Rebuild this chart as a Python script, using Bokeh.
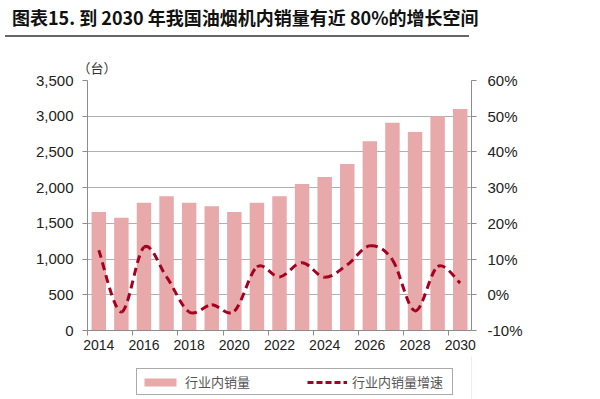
from bokeh.plotting import figure
from bokeh.models import (Range1d, LinearAxis, FixedTicker, NumeralTickFormatter, Title,
                          PrintfTickFormatter, Legend, LegendItem, Div, ColumnDataSource)
from bokeh.layouts import column
from bokeh.embed import file_html
from bokeh.resources import INLINE
import numpy as np

# ---- data ----
years = [2014, 2015, 2016, 2017, 2018, 2019, 2020, 2021, 2022,
         2023, 2024, 2025, 2026, 2027, 2028, 2029, 2030]
sales = [1660, 1580, 1790, 1880, 1790, 1740, 1660, 1790, 1880,
         2050, 2150, 2330, 2650, 2910, 2780, 3000, 3100]
growth = [12.5, -4.8, 13.3, 5.0, -4.8, -2.8, -4.6, 7.8, 5.0,
          9.0, 4.9, 8.4, 13.7, 9.8, -4.5, 7.9, 3.3]
left_ticks = [0, 500, 1000, 1500, 2000, 2500, 3000, 3500]
right_ticks = [-10, 0, 10, 20, 30, 40, 50, 60]
x_labels = [2014, 2016, 2018, 2020, 2022, 2024, 2026, 2028, 2030]

title_text = "图表15. 到 2030 年我国油烟机内销量有近 80%的增长空间"
unit_text = "（台）"
bar_name = "行业内销量"
line_name = "行业内销量增速"

BAR = "#E8A9AA"
LINE = "#A50021"
FONT = "Liberation Sans"
CJK = "Noto Sans CJK SC"

p = figure(frame_width=384, frame_height=250, output_backend="svg", toolbar_location=None,
           x_range=Range1d(years[0] - 0.5, years[-1] + 0.5), y_range=Range1d(0, 3500),
           min_border_left=87, min_border_right=59, min_border_top=38, min_border_bottom=26)
p.outline_line_color = None
p.background_fill_color = "white"
p.border_fill_color = "white"

p.extra_y_ranges = {"pct": Range1d(-10, 60)}

bars = p.vbar(x=years, top=sales, width=0.64, color=BAR, line_color=None)

# smooth curve through the growth points (Catmull-Rom as cubic bezier)
xs = np.array(years, dtype=float)
ys = np.array(growth, dtype=float)
n = len(xs)
xe = np.concatenate([[xs[0]], xs, [xs[-1]]])
ye = np.concatenate([[ys[0]], ys, [ys[-1]]])
x0, y0 = xs[:-1], ys[:-1]
x1, y1 = xs[1:], ys[1:]
cx0 = x0 + (xe[2:n + 1] - xe[0:n - 1]) / 6.0
cy0 = y0 + (ye[2:n + 1] - ye[0:n - 1]) / 6.0
cx1 = x1 - (xe[3:n + 2] - xe[1:n]) / 6.0
cy1 = y1 - (ye[3:n + 2] - ye[1:n]) / 6.0
src = ColumnDataSource(dict(x0=x0, y0=y0, x1=x1, y1=y1, cx0=cx0, cy0=cy0, cx1=cx1, cy1=cy1))
curve = p.bezier(x0="x0", y0="y0", x1="x1", y1="y1", cx0="cx0", cy0="cy0", cx1="cx1", cy1="cy1",
                 source=src, y_range_name="pct", line_color=LINE, line_width=3,
                 line_dash="8 5")

# axes
p.yaxis.ticker = FixedTicker(ticks=left_ticks)
p.yaxis.formatter = NumeralTickFormatter(format="0,0")
ax_r = LinearAxis(y_range_name="pct", ticker=FixedTicker(ticks=right_ticks),
                  formatter=PrintfTickFormatter(format="%d%%"))
p.add_layout(ax_r, "right")

p.xaxis.ticker = FixedTicker(ticks=x_labels,
                             minor_ticks=[y - 0.5 for y in x_labels])
for ax in [p.yaxis[0], ax_r, p.xaxis[0]]:
    ax.axis_line_color = "#8c8c8c"
    ax.axis_line_width = 1
    ax.major_tick_line_color = "#8c8c8c"
    ax.minor_tick_line_color = None
    ax.major_tick_in = 0
    ax.major_tick_out = 5
    ax.major_label_text_font = FONT
    ax.major_label_text_font_size = "15px"
    ax.major_label_text_color = "#222222"
    ax.major_label_standoff = 9
ax_r.major_label_standoff = 11
p.xaxis.major_label_text_font_size = "14px"
p.xaxis.major_tick_out = 0
p.xaxis.minor_tick_line_color = "#8c8c8c"
p.xaxis.minor_tick_in = 0
p.xaxis.minor_tick_out = 5
p.xaxis.major_label_standoff = 4

p.xgrid.grid_line_color = None
p.ygrid.ticker = FixedTicker(ticks=left_ticks)
p.ygrid.grid_line_color = "#b0b0b0"
p.ygrid.grid_line_width = 1

unit = Title(text=unit_text, align="left", offset=-10, standoff=8,
             text_font=CJK, text_font_size="13px", text_font_style="normal",
             text_color="#333333")
p.add_layout(unit, "above")

# legend strip below the chart (its frame is aligned with the chart frame)
lg = figure(width=530, height=43, output_backend="svg", toolbar_location=None,
            x_range=Range1d(0, 1), y_range=Range1d(0, 1),
            x_axis_location=None, y_axis_location=None, min_border=0)
lg.grid.visible = False
lg.outline_line_color = None
lg.border_fill_color = "white"
lg.background_fill_color = "white"
# series glyphs kept outside this strip's visible range; only their legend swatches show
sw_bar = lg.vbar(x=years[:1], top=sales[:1], width=0.5, color=BAR, line_color=None)
sw_line = lg.line(x=years[:2], y=growth[:2], line_color=LINE, line_width=3, line_dash="6 3")

legend = Legend(items=[LegendItem(label=bar_name, renderers=[sw_bar]),
                       LegendItem(label=line_name, renderers=[sw_line])],
                orientation="horizontal", location=(49, 4),
                glyph_width=40, glyph_height=10, label_standoff=5, label_width=97,
                label_height=12, spacing=25, padding=3, margin=0,
                label_text_font=CJK, label_text_font_size="13px", label_text_color="#555555",
                border_line_color="#555555", border_line_width=1,
                background_fill_color="white")
lg.add_layout(legend, "center")

title = Div(text=title_text, width=464, height=32,
            styles={"font-family": CJK, "font-weight": "bold", "font-size": "18px",
                    "color": "#111111", "border-bottom": "2px solid #666666",
                    "padding-left": "7px", "box-sizing": "border-box",
                    "line-height": "24px", "white-space": "nowrap"})

layout = column(title, p, lg, spacing=0)
open("out.html", "w").write(file_html(layout, INLINE))
